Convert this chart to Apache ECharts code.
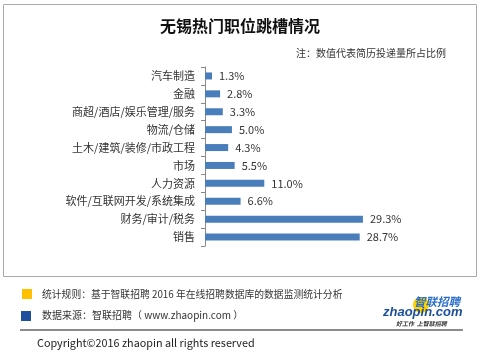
<!DOCTYPE html>
<html><head><meta charset="utf-8">
<script src="https://cdn.jsdelivr.net/npm/echarts@6/dist/echarts.min.js"></script>
<style>html,body{margin:0;padding:0;background:#fff;}#c{width:480px;height:359px;}</style>
</head><body><div id="c"></div>
<script>
const categories = ['汽车制造','金融','商超/酒店/娱乐管理/服务','物流/仓储','土木/建筑/装修/市政工程','市场','人力资源','软件/互联网开发/系统集成','财务/审计/税务','销售'];
const values = [1.3,2.8,3.3,5.0,4.3,5.5,11.0,6.6,29.3,28.7];
const titleText = '无锡热门职位跳槽情况';
const noteText = '注：数值代表简历投递量所占比例';
const footer1 = '统计规则：基于智联招聘 2016 年在线招聘数据库的数据监测统计分析';
const footer2 = '数据来源：智联招聘（ www.zhaopin.com ）';
const copyright = 'Copyright©2016 zhaopin all rights reserved';

const F = '"Noto Sans CJK SC","Noto Sans",sans-serif';
const chart = echarts.init(document.getElementById('c'));
chart.setOption({
  animation:false,
  title:{text:titleText,left:'center',top:13,textStyle:{fontFamily:F,fontSize:16,fontWeight:'bold',color:'#111'}},
  grid:{left:205,top:67,width:215.6,height:179,containLabel:false},
  xAxis:{type:'value',min:0,max:40,show:false},
  yAxis:{type:'category',data:categories,inverse:true,
    axisLine:{show:true,lineStyle:{color:'#888',width:1}},
    axisTick:{show:true,length:4,lineStyle:{color:'#888'}},
    axisLabel:{fontFamily:F,fontSize:11,color:'#333',margin:10}},
  series:[{type:'bar',data:values,barWidth:7,itemStyle:{color:'#4A7EBB'},
    label:{show:true,position:'right',distance:7,fontFamily:F,fontSize:11,color:'#333',
      formatter:p=>p.value.toFixed(1)+'%'}}],
  graphic:[
    {type:'rect',shape:{x:3.5,y:4.5,width:473,height:272},style:{fill:'none',stroke:'#aaa',lineWidth:1},z:-1},
    {type:'text',right:34,top:48,style:{text:noteText,fontFamily:F,fontSize:10,fill:'#333'}},
    {type:'rect',shape:{x:22,y:289,width:10,height:10},style:{fill:'#FFC000'}},
    {type:'rect',shape:{x:21,y:311,width:10,height:10},style:{fill:'#1F4E9F'}},
    {type:'text',left:42,top:289,style:{text:footer1,fontFamily:F,fontSize:9.8,fill:'#333'}},
    {type:'text',left:42,top:310,style:{text:footer2,fontFamily:F,fontSize:10,fill:'#333'}},
    {type:'line',shape:{x1:20,y1:330,x2:463,y2:330},style:{stroke:'#666',lineWidth:1.5}},
    {type:'text',left:37,top:338,style:{text:copyright,fontFamily:F,fontSize:10.8,fill:'#222'}},
    {type:'circle',shape:{cx:421,cy:305,r:8},style:{fill:'#FFD200'}},
    {type:'text',x:414,y:302,style:{text:'智联招聘',fontFamily:F,fontSize:11.5,fontWeight:'bold',fontStyle:'italic',fill:'#2A6FC9',verticalAlign:'middle'}},
    {type:'text',x:383,y:312.5,style:{text:'zhaopin.com',fontFamily:'"Liberation Sans",sans-serif',fontSize:13,fontWeight:'bold',fontStyle:'italic',fill:'#1B4F9C',verticalAlign:'middle'}},
    {type:'text',x:396,y:323.5,style:{text:'好工作  上智联招聘',fontFamily:F,fontSize:6,fontWeight:'bold',fontStyle:'italic',fill:'#333',verticalAlign:'middle'}}
  ]
});
</script></body></html>
